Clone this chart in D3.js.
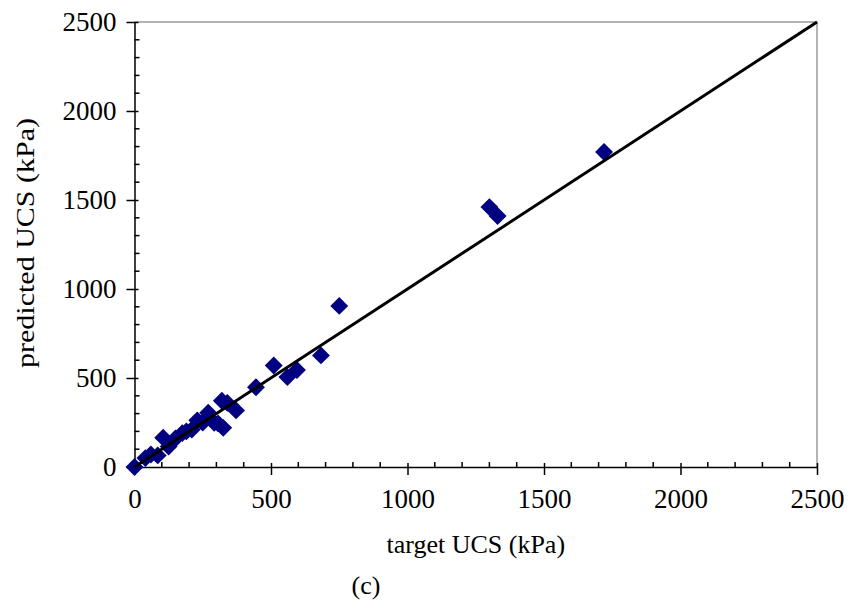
<!DOCTYPE html>
<html>
<head>
<meta charset="utf-8">
<script src="https://cdn.jsdelivr.net/npm/d3@7"></script>
<style>
  body { margin: 0; background: #fff; }
  text { font-family: "Liberation Serif", "Times New Roman", serif; fill: #000; }
</style>
</head>
<body>
<div id="chart"></div>
<script>
// target vs predicted UCS (kPa)
const target = [0, 40, 60, 85, 105, 125, 150, 175, 190, 210, 230, 250, 270, 292, 306, 320, 325, 340, 372, 445, 510, 560, 595, 683, 750, 1300, 1330, 1720];
const predicted = [0, 50, 70, 65, 165, 115, 160, 190, 200, 210, 262, 250, 305, 248, 245, 372, 220, 360, 318, 448, 570, 505, 545, 627, 905, 1460, 1410, 1770];
const tickValues = [0, 500, 1000, 1500, 2000, 2500];

const width = 850, height = 605,
    margin = ({ top: 22, right: 33, bottom: 138, left: 134.5 });

const svg = d3.select("#chart")
    .append("svg")
    .attr("width", width)
    .attr("height", height);

const data = target.map((t, i) => ({ t: t, p: predicted[i] }));

let x = d3.scaleLinear()
    .domain([0, 2500])
    .range([margin.left, width - margin.right]);

let y = d3.scaleLinear()
    .domain([0, 2500])
    .range([height - margin.bottom, margin.top]);

// grey frame top/right
svg.append("path")
    .attr("d", `M${x(0)},${y(2500)}H${x(2500)}V${y(0)}`)
    .attr("fill", "none")
    .attr("stroke", "#9a9a9a")
    .attr("stroke-width", 1.5);

// minor ticks, inward
const minor = d3.range(0, 2501, 100).filter(v => v % 500 !== 0);
svg.append("g")
    .selectAll("line")
    .data(minor)
    .join("line")
    .attr("x1", d => x(d)).attr("x2", d => x(d))
    .attr("y1", y(0)).attr("y2", y(0) - 5)
    .attr("stroke", "#000").attr("stroke-width", 1.5);
svg.append("g")
    .selectAll("line")
    .data(minor)
    .join("line")
    .attr("y1", d => y(d)).attr("y2", d => y(d))
    .attr("x1", x(0)).attr("x2", x(0) + 5)
    .attr("stroke", "#000").attr("stroke-width", 1.5);

// Add x-axis
let gx = svg.append("g")
    .attr("transform", `translate(0,${y(0)})`)
    .call(d3.axisBottom(x)
        .tickValues(tickValues)
        .tickFormat(d3.format("d"))
        .tickSizeInner(8)
        .tickSizeOuter(0)
        .tickPadding(14));
gx.selectAll(".tick line").attr("y1", -4);

// Add y-axis
let gy = svg.append("g")
    .attr("transform", `translate(${x(0)},0)`)
    .call(d3.axisLeft(y)
        .tickValues(tickValues)
        .tickFormat(d3.format("d"))
        .tickSizeInner(8)
        .tickSizeOuter(0)
        .tickPadding(10));
gy.selectAll(".tick line").attr("x1", 4);

svg.selectAll(".domain, .tick line").attr("stroke", "#000").attr("stroke-width", 1.5);
svg.selectAll("g").attr("font-family", null).attr("font-size", null);
svg.selectAll(".tick text")
    .style("font-family", "'Liberation Serif', serif")
    .style("font-size", "27px");

// diamonds
svg.append("g")
    .selectAll("path")
    .data(data)
    .join("path")
    .attr("d", d3.symbol().type(d3.symbolSquare).size(160))
    .attr("fill", "#000080")
    .attr("transform", d => `translate(${x(d.t)},${y(d.p)}) rotate(45)`);

// 1:1 line, on top of the points
svg.append("line")
    .attr("x1", x(0)).attr("y1", y(0))
    .attr("x2", x(2500)).attr("y2", y(2500))
    .attr("stroke", "#000")
    .attr("stroke-width", 3);

// Axis labels
svg.append("text")
    .attr("text-anchor", "middle")
    .attr("x", (x(0) + x(2500)) / 2)
    .attr("y", 553)
    .style("font-size", "26px")
    .text("target UCS (kPa)");

svg.append("text")
    .attr("text-anchor", "middle")
    .attr("transform", `translate(34,243) rotate(-90)`)
    .attr("textLength", 250)
    .attr("lengthAdjust", "spacingAndGlyphs")
    .style("font-size", "26px")
    .text("predicted UCS (kPa)");

svg.append("text")
    .attr("text-anchor", "middle")
    .attr("x", 366)
    .attr("y", 594)
    .style("font-size", "26px")
    .text("(c)");
</script>
</body>
</html>
